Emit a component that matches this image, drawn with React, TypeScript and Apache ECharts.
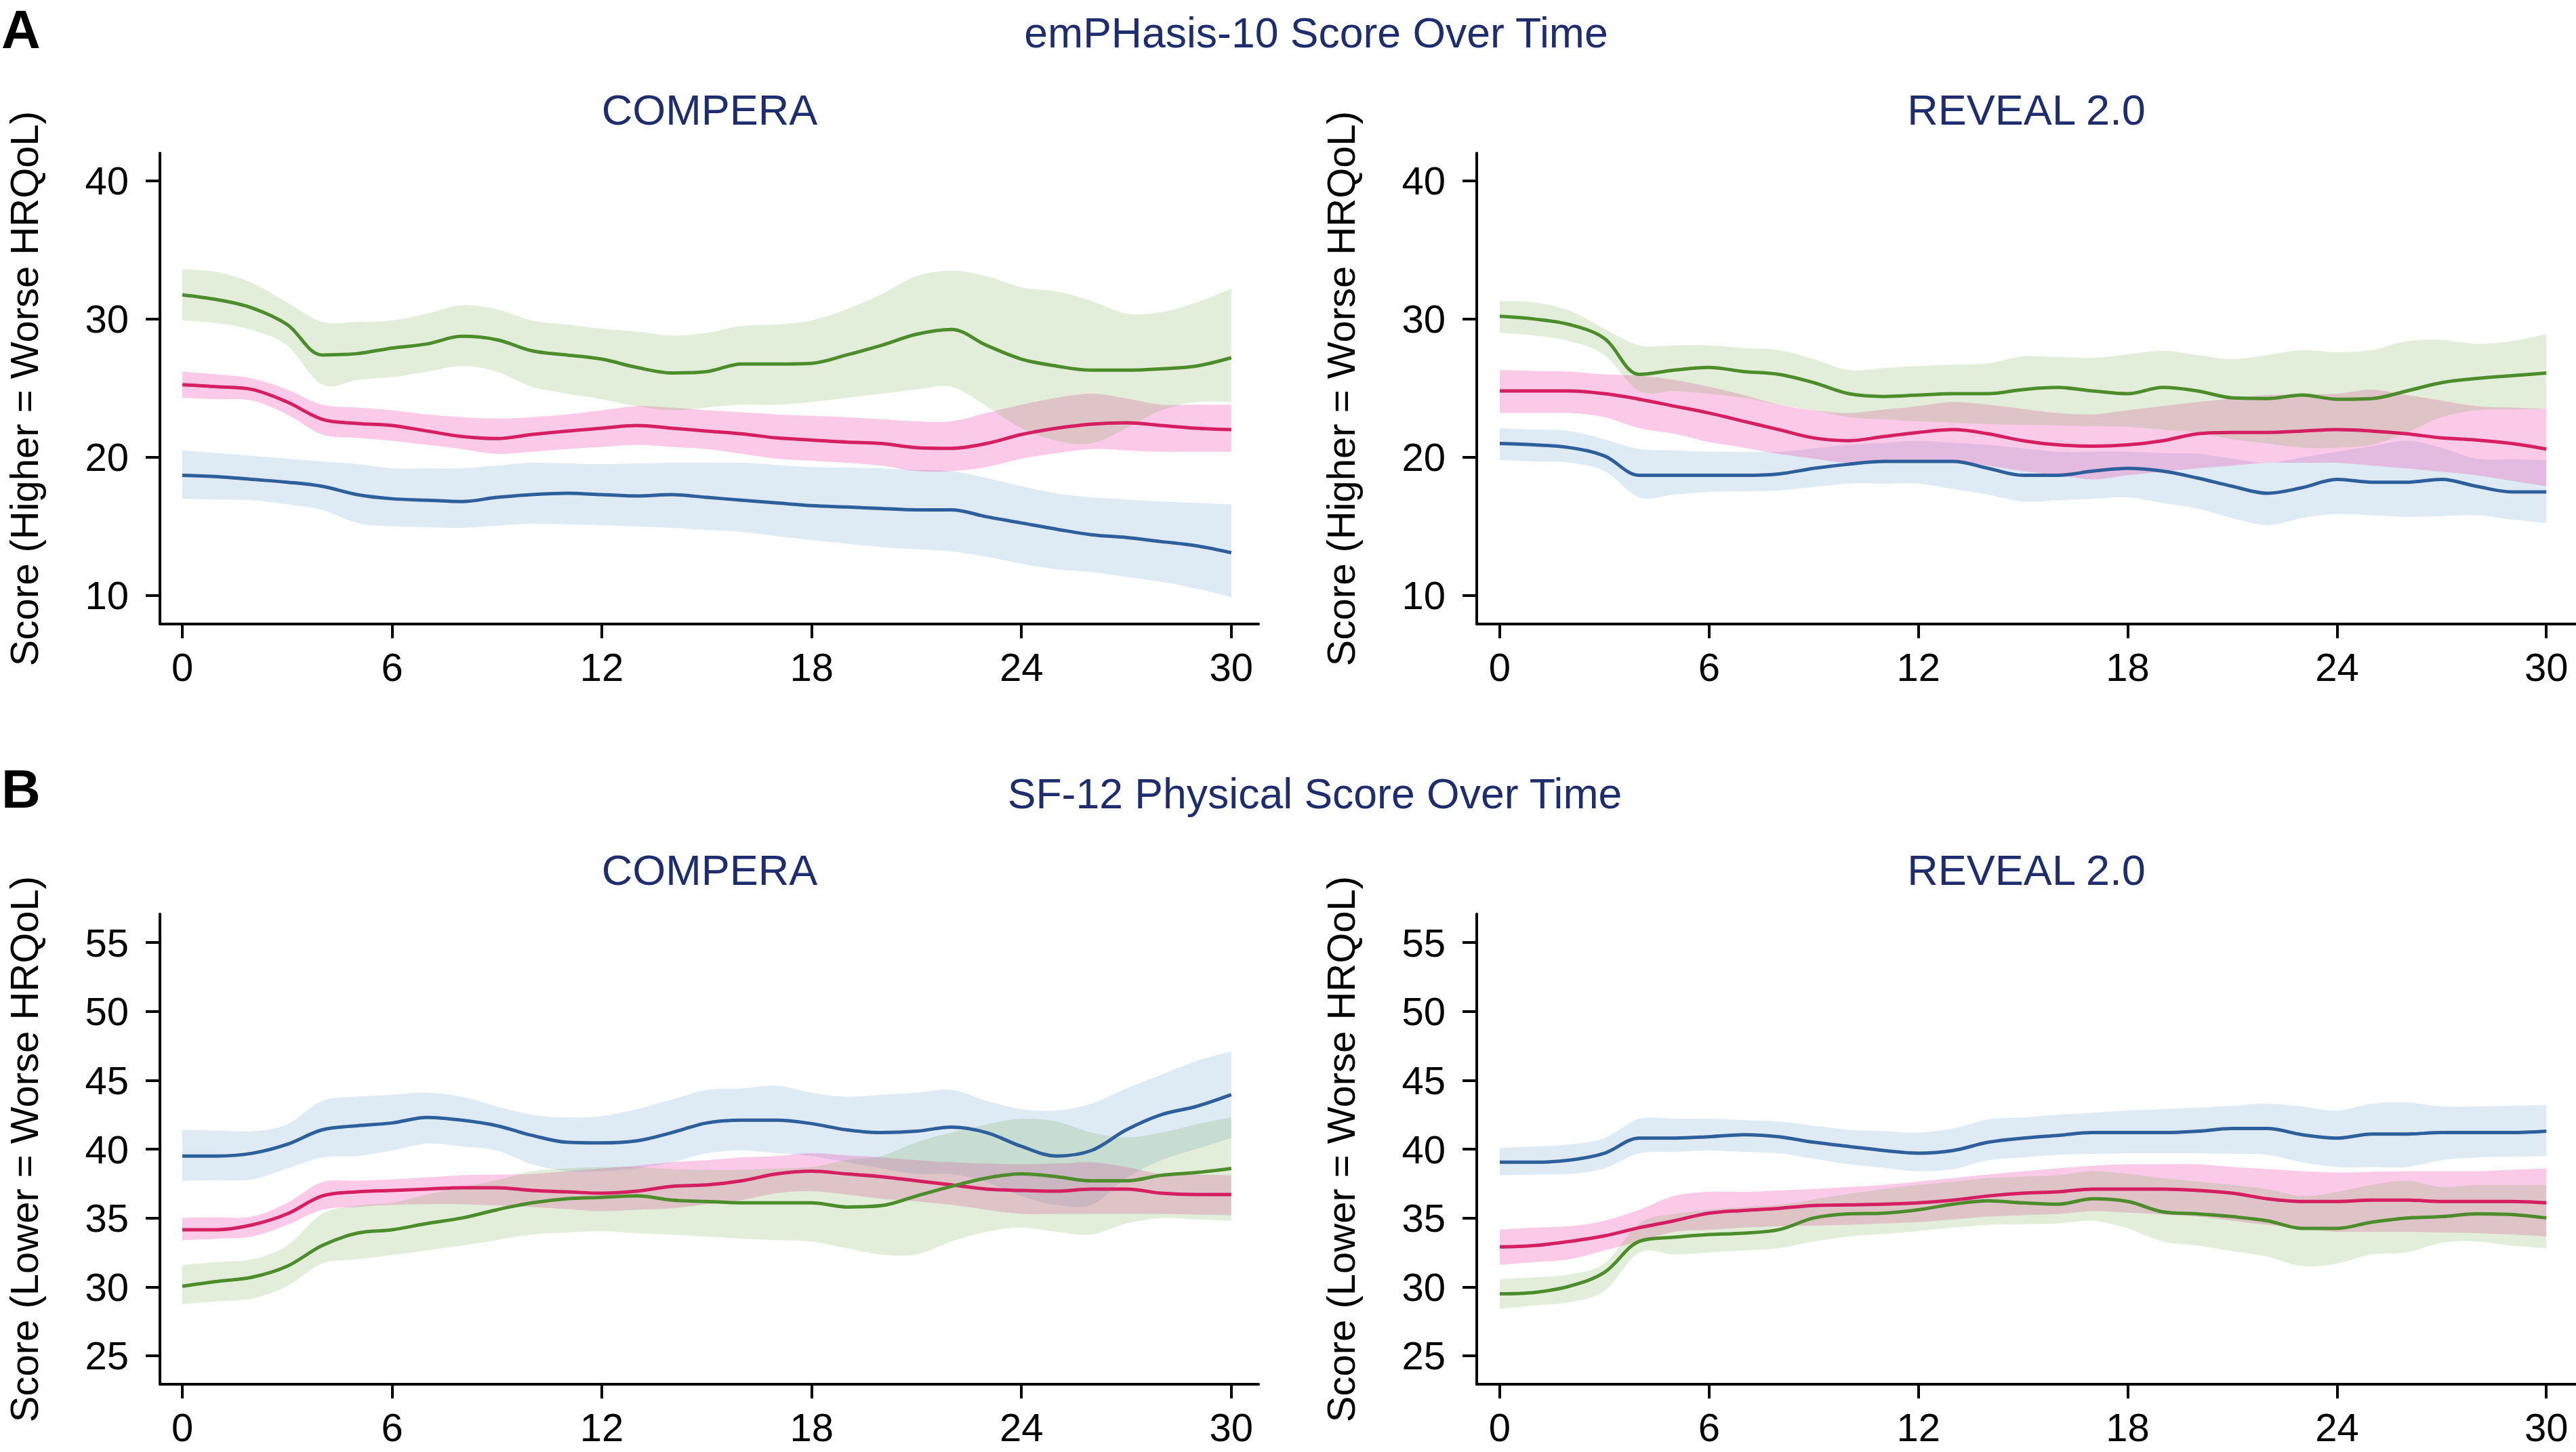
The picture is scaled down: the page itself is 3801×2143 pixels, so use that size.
import React, { useEffect, useRef } from "react";
import * as echarts from "echarts";

// ---------- data ----------
const MONTHS = [0, 1, 2, 3, 4, 5, 6, 7, 8, 9, 10, 11, 12, 13, 14, 15, 16, 17, 18, 19, 20, 21, 22, 23, 24, 25, 26, 27, 28, 29, 30];
const X_TICKS = [0, 6, 12, 18, 24, 30];
const Y_TICKS_A = [10, 20, 30, 40];
const Y_TICKS_B = [25, 30, 35, 40, 45, 50, 55];

const MAIN_TITLES = ["emPHasis-10 Score Over Time", "SF-12 Physical Score Over Time"];
const PANEL_LETTERS = ["A", "B"];
const REGISTRY_TITLES = ["COMPERA", "REVEAL 2.0"];
const Y_TITLES = ["Score (Higher = Worse HRQoL)", "Score (Lower = Worse HRQoL)"];

// A – COMPERA (emPHasis-10)
const aCompGreenMean = [31.75, 31.4, 30.8, 29.6, 27.4, 27.5, 27.9, 28.2, 28.75, 28.5, 27.7, 27.4, 27.1, 26.5, 26.1, 26.2, 26.75, 26.75, 26.8, 27.4, 28.1, 28.9, 29.25, 28.1, 27.1, 26.6, 26.3, 26.3, 26.4, 26.6, 27.2];
const aCompGreenHi = [33.6, 33.4, 32.6, 31.2, 29.8, 29.8, 29.9, 30.4, 31.0, 30.7, 29.9, 29.6, 29.3, 29.1, 28.8, 29.0, 29.5, 29.6, 29.9, 30.7, 31.8, 33.1, 33.5, 33.1, 32.3, 32.0, 31.3, 30.4, 30.5, 31.2, 32.2];
const aCompGreenLo = [29.9, 29.7, 29.2, 28.1, 25.25, 25.6, 25.8, 26.2, 26.6, 26.2, 25.1, 24.6, 24.2, 23.7, 23.4, 23.6, 23.8, 23.8, 24.0, 24.3, 24.6, 24.9, 25.1, 23.7, 22.1, 21.2, 21.0, 22.1, 23.4, 24.0, 24.0];
const aCompPinkMean = [25.25, 25.1, 24.9, 24.0, 22.75, 22.45, 22.3, 21.9, 21.5, 21.35, 21.65, 21.9, 22.1, 22.3, 22.1, 21.9, 21.7, 21.4, 21.25, 21.1, 21.0, 20.7, 20.65, 21.0, 21.65, 22.1, 22.4, 22.5, 22.3, 22.1, 22.0];
const aCompPinkHi = [26.2, 26.0, 25.7, 24.9, 23.8, 23.6, 23.4, 23.1, 22.9, 22.8, 22.9, 23.1, 23.4, 23.7, 23.6, 23.4, 23.25, 23.1, 23.0, 22.9, 22.75, 22.6, 22.6, 23.2, 23.8, 24.3, 24.6, 24.25, 23.8, 23.8, 23.8];
const aCompPinkLo = [24.3, 24.2, 24.1, 23.1, 21.65, 21.4, 21.2, 20.9, 20.6, 20.25, 20.4, 20.6, 20.75, 20.9, 20.75, 20.6, 20.25, 19.9, 19.75, 19.6, 19.4, 19.0, 19.0, 19.3, 19.9, 20.3, 20.6, 20.5, 20.4, 20.4, 20.4];
const aCompBlueMean = [18.7, 18.6, 18.4, 18.2, 17.9, 17.3, 17.0, 16.9, 16.8, 17.1, 17.3, 17.4, 17.3, 17.2, 17.3, 17.1, 16.9, 16.7, 16.5, 16.4, 16.3, 16.2, 16.2, 15.7, 15.25, 14.8, 14.4, 14.2, 13.9, 13.6, 13.1];
const aCompBlueHi = [20.5, 20.3, 20.1, 19.9, 19.7, 19.5, 19.2, 19.2, 19.2, 19.4, 19.6, 19.55, 19.5, 19.55, 19.6, 19.6, 19.6, 19.45, 19.3, 19.25, 19.2, 19.1, 19.0, 18.5, 17.9, 17.4, 17.1, 16.95, 16.8, 16.7, 16.6];
const aCompBlueLo = [17.0, 16.95, 16.9, 16.6, 16.2, 15.25, 15.0, 14.95, 14.9, 15.05, 15.2, 15.15, 15.1, 15.0, 14.9, 14.75, 14.6, 14.3, 14.0, 13.75, 13.5, 13.35, 13.2, 12.8, 12.3, 11.9, 11.7, 11.35, 11.0, 10.5, 9.9];

// A – REVEAL 2.0 (emPHasis-10)
const aRevGreenMean = [30.2, 30.0, 29.6, 28.6, 26.0, 26.3, 26.5, 26.2, 26.0, 25.4, 24.6, 24.4, 24.5, 24.6, 24.6, 24.9, 25.05, 24.8, 24.6, 25.05, 24.8, 24.3, 24.25, 24.5, 24.2, 24.25, 24.8, 25.4, 25.7, 25.9, 26.1];
const aRevGreenHi = [31.3, 31.2, 30.6, 29.3, 28.1, 28.1, 28.1, 27.9, 27.75, 27.1, 26.3, 26.45, 26.6, 26.7, 26.8, 27.3, 27.25, 27.2, 27.45, 27.7, 27.4, 27.1, 27.4, 27.75, 27.6, 27.75, 28.4, 28.5, 28.2, 28.4, 28.9];
const aRevGreenLo = [29.0, 28.8, 28.4, 27.4, 24.8, 24.8, 24.6, 24.3, 23.8, 23.4, 22.9, 22.75, 22.6, 22.5, 22.4, 22.35, 22.3, 22.25, 22.2, 22.0, 21.8, 21.3, 21.0, 20.7, 20.7, 20.9, 21.8, 22.9, 23.4, 23.45, 23.5];
const aRevPinkMean = [24.8, 24.8, 24.8, 24.6, 24.2, 23.7, 23.2, 22.6, 22.0, 21.4, 21.2, 21.5, 21.8, 22.0, 21.7, 21.2, 20.9, 20.8, 20.9, 21.2, 21.7, 21.8, 21.8, 21.9, 22.0, 21.9, 21.7, 21.4, 21.25, 21.0, 20.6];
const aRevPinkHi = [26.3, 26.25, 26.2, 26.0, 25.9, 25.6, 25.1, 24.5, 23.8, 23.4, 23.2, 23.45, 23.7, 24.0, 23.8, 23.5, 23.2, 23.1, 23.4, 23.7, 24.0, 24.25, 24.5, 24.55, 24.6, 24.9, 24.5, 24.1, 23.7, 23.6, 23.5];
const aRevPinkLo = [23.2, 23.2, 23.2, 22.9, 22.1, 21.7, 21.1, 20.7, 20.25, 19.9, 19.6, 19.7, 19.8, 19.6, 19.4, 19.0, 18.7, 18.4, 18.7, 18.95, 19.2, 19.4, 19.6, 19.6, 19.6, 19.4, 19.2, 18.95, 18.7, 18.3, 17.9];
const aRevBlueMean = [21.0, 20.9, 20.7, 20.1, 18.7, 18.7, 18.7, 18.7, 18.8, 19.2, 19.5, 19.7, 19.7, 19.7, 19.2, 18.7, 18.7, 19.0, 19.2, 19.0, 18.5, 17.9, 17.4, 17.8, 18.4, 18.2, 18.2, 18.4, 17.9, 17.5, 17.5];
const aRevBlueHi = [22.1, 22.0, 21.9, 21.3, 20.6, 20.5, 20.4, 20.4, 20.4, 20.65, 20.9, 21.05, 21.2, 21.05, 20.9, 20.65, 20.4, 20.4, 20.4, 20.3, 20.25, 19.9, 19.6, 20.0, 20.4, 20.8, 21.2, 20.7, 19.9, 19.85, 19.8];
const aRevBlueLo = [19.8, 19.7, 19.6, 19.0, 17.1, 17.3, 17.5, 17.55, 17.6, 17.85, 18.1, 18.1, 18.1, 17.7, 17.3, 16.8, 16.9, 17.0, 17.1, 16.7, 16.3, 15.6, 15.1, 15.6, 15.9, 15.8, 15.7, 15.75, 15.8, 15.5, 15.25];

// B – COMPERA (SF-12 physical)
const bCompBlueMean = [39.5, 39.5, 39.7, 40.35, 41.4, 41.7, 41.9, 42.3, 42.1, 41.7, 41.0, 40.5, 40.45, 40.6, 41.2, 41.9, 42.1, 42.1, 41.85, 41.4, 41.2, 41.3, 41.6, 41.2, 40.2, 39.5, 39.9, 41.4, 42.5, 43.1, 43.95];
const bCompBlueHi = [41.4, 41.35, 41.3, 41.8, 43.5, 43.8, 43.95, 44.1, 43.8, 43.1, 42.5, 42.3, 42.4, 42.9, 43.6, 44.3, 44.4, 44.6, 44.1, 43.8, 43.95, 44.1, 44.3, 43.5, 42.9, 42.8, 43.3, 44.4, 45.4, 46.4, 47.1];
const bCompBlueLo = [37.7, 37.75, 37.8, 38.6, 39.4, 39.5, 39.9, 40.4, 40.2, 39.9, 38.9, 38.4, 38.4, 38.6, 39.05, 39.7, 39.9, 39.7, 39.5, 39.05, 38.6, 38.2, 38.2, 37.6, 36.6, 35.95, 35.95, 37.9, 39.2, 40.0, 40.8];
const bCompPinkMean = [34.15, 34.15, 34.5, 35.3, 36.6, 36.9, 37.0, 37.1, 37.2, 37.2, 37.0, 36.9, 36.8, 36.95, 37.3, 37.4, 37.7, 38.2, 38.4, 38.2, 38.0, 37.7, 37.4, 37.1, 37.0, 36.95, 37.1, 37.1, 36.8, 36.7, 36.7];
const bCompPinkHi = [35.0, 35.05, 35.1, 36.1, 37.6, 37.7, 37.8, 37.95, 38.1, 38.15, 38.2, 38.4, 38.6, 38.8, 39.05, 39.2, 39.4, 39.5, 39.7, 39.55, 39.4, 39.2, 39.05, 38.95, 38.9, 38.95, 39.05, 38.7, 38.2, 38.15, 38.1];
const bCompPinkLo = [33.4, 33.5, 33.65, 34.5, 35.6, 35.8, 35.95, 36.0, 36.0, 35.9, 35.8, 35.65, 35.5, 35.6, 35.7, 36.0, 36.3, 36.8, 36.95, 36.7, 36.4, 36.2, 35.95, 35.6, 35.3, 35.3, 35.3, 35.3, 35.3, 35.25, 35.2];
const bCompGreenMean = [30.05, 30.4, 30.7, 31.5, 33.0, 33.9, 34.15, 34.6, 35.0, 35.6, 36.1, 36.4, 36.5, 36.6, 36.3, 36.2, 36.1, 36.1, 36.1, 35.8, 35.9, 36.6, 37.3, 37.9, 38.2, 38.0, 37.7, 37.7, 38.1, 38.3, 38.6];
const bCompGreenHi = [31.6, 31.8, 32.0, 33.0, 35.3, 35.9, 36.1, 36.7, 37.25, 37.75, 38.4, 38.6, 38.7, 38.7, 38.55, 38.5, 38.5, 38.6, 38.7, 39.2, 39.5, 40.5, 41.2, 41.8, 42.2, 42.0, 41.2, 40.85, 41.2, 41.8, 42.3];
const bCompGreenLo = [28.75, 28.95, 29.15, 30.05, 31.7, 32.0, 32.3, 32.65, 33.0, 33.4, 33.8, 33.95, 34.05, 33.9, 33.8, 33.65, 33.5, 33.4, 33.3, 32.8, 32.35, 32.35, 33.3, 34.0, 34.3, 34.0, 33.8, 34.6, 35.0, 34.9, 34.8];

// B – REVEAL 2.0 (SF-12 physical)
const bRevBlueMean = [39.05, 39.05, 39.2, 39.7, 40.8, 40.8, 40.9, 41.05, 40.9, 40.5, 40.2, 39.9, 39.7, 39.9, 40.5, 40.8, 41.0, 41.2, 41.2, 41.2, 41.3, 41.5, 41.5, 41.05, 40.8, 41.1, 41.1, 41.2, 41.2, 41.2, 41.3];
const bRevBlueHi = [40.1, 40.2, 40.35, 40.8, 42.2, 42.2, 42.2, 42.1, 42.0, 41.7, 41.4, 41.3, 41.2, 41.5, 42.15, 42.3, 42.5, 42.65, 42.8, 42.9, 43.0, 43.15, 43.3, 43.1, 42.8, 43.3, 43.4, 43.1, 43.1, 43.15, 43.2];
const bRevBlueLo = [38.1, 38.15, 38.2, 38.6, 39.7, 39.8, 39.9, 39.8, 39.7, 39.3, 38.9, 38.65, 38.4, 38.55, 39.2, 39.4, 39.6, 39.65, 39.7, 39.7, 39.7, 39.65, 39.6, 39.05, 38.7, 38.7, 38.7, 39.2, 39.4, 39.45, 39.5];
const bRevPinkMean = [32.9, 33.0, 33.3, 33.7, 34.3, 34.8, 35.35, 35.55, 35.7, 35.9, 35.95, 36.0, 36.1, 36.3, 36.6, 36.8, 36.9, 37.1, 37.1, 37.1, 37.0, 36.8, 36.4, 36.2, 36.2, 36.3, 36.3, 36.2, 36.2, 36.2, 36.1];
const bRevPinkHi = [34.15, 34.3, 34.4, 34.8, 35.6, 36.6, 36.9, 36.9, 37.0, 37.1, 37.25, 37.4, 37.65, 37.9, 38.15, 38.4, 38.6, 38.8, 38.9, 38.9, 38.9, 38.7, 38.55, 38.4, 38.3, 38.35, 38.4, 38.4, 38.4, 38.5, 38.6];
const bRevPinkLo = [31.6, 31.8, 32.0, 32.65, 33.3, 34.0, 34.15, 34.3, 34.4, 34.45, 34.5, 34.6, 34.7, 34.9, 35.1, 35.2, 35.3, 35.5, 35.4, 35.25, 35.1, 34.8, 34.5, 34.25, 34.0, 34.0, 34.0, 33.95, 33.9, 33.8, 33.65];
const bRevGreenMean = [29.5, 29.6, 30.05, 31.05, 33.3, 33.6, 33.8, 33.9, 34.15, 35.0, 35.3, 35.35, 35.6, 36.0, 36.25, 36.1, 36.0, 36.4, 36.2, 35.45, 35.3, 35.1, 34.8, 34.25, 34.25, 34.7, 35.0, 35.1, 35.3, 35.25, 35.0];
const bRevGreenHi = [30.55, 30.7, 30.9, 31.7, 34.6, 35.3, 35.6, 35.8, 35.95, 36.35, 36.75, 37.1, 37.4, 37.65, 37.9, 38.0, 38.1, 38.4, 38.2, 37.9, 37.65, 37.4, 37.1, 36.6, 36.9, 37.4, 37.7, 37.25, 37.4, 37.4, 37.4];
const bRevGreenLo = [28.4, 28.65, 28.9, 29.7, 32.5, 32.35, 32.5, 32.65, 32.8, 33.3, 33.65, 33.85, 34.05, 34.3, 34.5, 34.55, 34.6, 34.8, 34.25, 33.3, 33.0, 32.6, 32.2, 31.5, 31.7, 32.35, 32.5, 33.2, 33.3, 33.0, 32.8];

// ---------- styles ----------
const FONT = "'Liberation Sans', Arial, Helvetica, sans-serif";
const NAVY = "#1d2d6e";
const COLORS = {
  blue: { line: "#2d5f9b", band: "rgba(90,150,200,0.2)" },
  pink: { line: "#d41f63", band: "rgba(240,80,180,0.3)" },
  green: { line: "#4c8c2b", band: "rgba(110,170,70,0.2)" },
};
const SMOOTH = 0.35;

type Group = { key: "blue" | "pink" | "green"; mean: number[]; hi: number[]; lo: number[] };

const PANELS: { groups: Group[]; yTicks: number[]; yMin: number; yMax: number; xMin: number; xMax: number; yTitle: string; grid: any }[] = [
  {
    groups: [
      { key: "blue", mean: aCompBlueMean, hi: aCompBlueHi, lo: aCompBlueLo },
      { key: "pink", mean: aCompPinkMean, hi: aCompPinkHi, lo: aCompPinkLo },
      { key: "green", mean: aCompGreenMean, hi: aCompGreenHi, lo: aCompGreenLo },
    ],
    yTicks: Y_TICKS_A, yMin: 7.94, yMax: 42.0, xMin: -0.64, xMax: 30.78, yTitle: Y_TITLES[0],
    grid: { left: 236, top: 226, width: 1621, height: 695 },
  },
  {
    groups: [
      { key: "blue", mean: aRevBlueMean, hi: aRevBlueHi, lo: aRevBlueLo },
      { key: "pink", mean: aRevPinkMean, hi: aRevPinkHi, lo: aRevPinkLo },
      { key: "green", mean: aRevGreenMean, hi: aRevGreenHi, lo: aRevGreenLo },
    ],
    yTicks: Y_TICKS_A, yMin: 7.94, yMax: 42.0, xMin: -0.66, xMax: 30.85, yTitle: Y_TITLES[0],
    grid: { left: 2179, top: 226, width: 1622, height: 695 },
  },
  {
    groups: [
      { key: "blue", mean: bCompBlueMean, hi: bCompBlueHi, lo: bCompBlueLo },
      { key: "pink", mean: bCompPinkMean, hi: bCompPinkHi, lo: bCompPinkLo },
      { key: "green", mean: bCompGreenMean, hi: bCompGreenHi, lo: bCompGreenLo },
    ],
    yTicks: Y_TICKS_B, yMin: 22.93, yMax: 57.07, xMin: -0.64, xMax: 30.78, yTitle: Y_TITLES[1],
    grid: { left: 236, top: 1349, width: 1621, height: 694 },
  },
  {
    groups: [
      { key: "blue", mean: bRevBlueMean, hi: bRevBlueHi, lo: bRevBlueLo },
      { key: "pink", mean: bRevPinkMean, hi: bRevPinkHi, lo: bRevPinkLo },
      { key: "green", mean: bRevGreenMean, hi: bRevGreenHi, lo: bRevGreenLo },
    ],
    yTicks: Y_TICKS_B, yMin: 22.93, yMax: 57.07, xMin: -0.66, xMax: 30.85, yTitle: Y_TITLES[1],
    grid: { left: 2179, top: 1349, width: 1622, height: 694 },
  },
];

// Catmull-Rom smoothed path through pixel points (drawing helper only)
function smoothSegment(pts: number[][], start: boolean): string {
  const k = 1 / 6;
  let d = start ? `M${pts[0][0]},${pts[0][1]}` : `L${pts[0][0]},${pts[0][1]}`;
  for (let i = 0; i < pts.length - 1; i++) {
    const p0 = pts[Math.max(0, i - 1)];
    const p1 = pts[i];
    const p2 = pts[i + 1];
    const p3 = pts[Math.min(pts.length - 1, i + 2)];
    const c1x = p1[0] + (p2[0] - p0[0]) * k;
    const c1y = p1[1] + (p2[1] - p0[1]) * k;
    const c2x = p2[0] - (p3[0] - p1[0]) * k;
    const c2y = p2[1] - (p3[1] - p1[1]) * k;
    d += ` C${c1x},${c1y} ${c2x},${c2y} ${p2[0]},${p2[1]}`;
  }
  return d;
}

function buildOption() {
  const grids = PANELS.map((p) => ({ ...p.grid, containLabel: false }));
  const axisLine = { show: true, onZero: false, lineStyle: { color: "#000", width: 4 } };
  const xAxes = PANELS.map((p, i) => ({
    type: "value",
    gridIndex: i,
    min: p.xMin,
    max: p.xMax,
    axisLine,
    axisTick: { show: true, customValues: X_TICKS, length: 21, lineStyle: { color: "#000", width: 4 } },
    axisLabel: { customValues: X_TICKS, fontSize: 58, color: "#000", fontFamily: FONT, margin: 34 },
    splitLine: { show: false },
  }));
  const yAxes = PANELS.map((p, i) => ({
    type: "value",
    gridIndex: i,
    min: p.yMin,
    max: p.yMax,
    axisLine,
    axisTick: { show: true, customValues: p.yTicks, length: 21, lineStyle: { color: "#000", width: 4 } },
    axisLabel: { customValues: p.yTicks, fontSize: 58, color: "#000", fontFamily: FONT, margin: 46 },
    splitLine: { show: false },
    name: p.yTitle,
    nameLocation: "middle",
    nameGap: 172,
    nameTextStyle: { fontSize: 58, color: "#000", fontFamily: FONT },
  }));

  const series: any[] = [];
  PANELS.forEach((p, gi) => {
    p.groups.forEach((g) => {
      series.push({
        type: "custom",
        xAxisIndex: gi,
        yAxisIndex: gi,
        silent: true,
        z: 1,
        clip: true,
        encode: { x: 0, y: [1, 2] },
        data: MONTHS.map((m, i) => [m, g.lo[i], g.hi[i]]),
        renderItem: (params: any, api: any) => {
          if (params.dataIndex !== 0) return null;
          const up = MONTHS.map((m, i) => api.coord([m, g.hi[i]]));
          const dn = MONTHS.map((m, i) => api.coord([m, g.lo[i]])).reverse();
          const d = smoothSegment(up, true) + " " + smoothSegment(dn, false) + " Z";
          return { type: "path", shape: { pathData: d }, style: { fill: COLORS[g.key].band, stroke: "none" } };
        },
      });
    });
    p.groups.forEach((g) => {
      series.push({
        type: "line", xAxisIndex: gi, yAxisIndex: gi, smooth: SMOOTH, symbol: "none", silent: true, z: 3,
        lineStyle: { color: COLORS[g.key].line, width: 5 },
        data: MONTHS.map((m, i) => [m, g.mean[i]]),
      });
    });
  });

  const txt = (text: string, x: number, y: number, size: number, color: string, align: string, bold = false) => ({
    type: "text",
    x,
    y,
    style: { text, fill: color, fontSize: size, fontFamily: FONT, fontWeight: bold ? "bold" : "normal", textAlign: align, textVerticalAlign: "middle" },
  });

  const graphic = [
    txt(PANEL_LETTERS[0], 2, 43, 80, "#000", "left", true),
    txt(PANEL_LETTERS[1], 2, 1164, 80, "#000", "left", true),
    txt(MAIN_TITLES[0], 1942, 48, 62.5, NAVY, "center"),
    txt(MAIN_TITLES[1], 1940, 1171, 62.5, NAVY, "center"),
    txt(REGISTRY_TITLES[0], 1047, 162, 63, NAVY, "center"),
    txt(REGISTRY_TITLES[1], 2990, 162, 63, NAVY, "center"),
    txt(REGISTRY_TITLES[0], 1047, 1284, 63, NAVY, "center"),
    txt(REGISTRY_TITLES[1], 2990, 1284, 63, NAVY, "center"),
  ];

  return {
    animation: false,
    backgroundColor: "#fff",
    grid: grids,
    xAxis: xAxes,
    yAxis: yAxes,
    series,
    graphic,
  };
}

export default function App() {
  const ref = useRef<HTMLDivElement>(null);
  useEffect(() => {
    document.body.style.margin = "0";
    document.body.style.overflow = "hidden";
    if (!ref.current) return;
    const chart = echarts.init(ref.current, undefined, { renderer: "svg" });
    chart.setOption(buildOption() as any);
    return () => chart.dispose();
  }, []);
  return <div ref={ref} style={{ position: "absolute", left: 0, top: 0, width: 3801, height: 2143, background: "#fff" }} />;
}
